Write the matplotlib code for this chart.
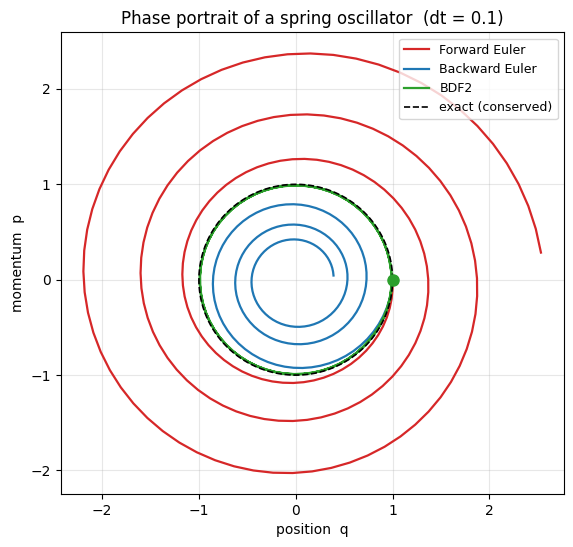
import numpy as np
import matplotlib
matplotlib.use("Agg")
from matplotlib import pyplot as plt

# spring oscillator  q' = p , p' = -q
dt = 0.1
n_steps = 188          # about three periods (6*pi / dt)
q0 = 1.0
p0 = 0.0

series_names = ["Forward Euler", "Backward Euler", "BDF2", "exact (conserved)"]
series_colors = ["tab:red", "tab:blue", "tab:green", "black"]

A = np.array([[0.0, 1.0], [-1.0, 0.0]])
I = np.eye(2)


def ForwardEuler(y0):
    ys = [np.array(y0)]
    for n in range(n_steps):
        ys.append((I + dt * A) @ ys[-1])
    return np.array(ys)


def BackwardEuler(y0):
    M = np.linalg.inv(I - dt * A)
    ys = [np.array(y0)]
    for n in range(n_steps):
        ys.append(M @ ys[-1])
    return np.array(ys)


def BDF2(y0):
    # first step with backward euler, then BDF2
    M1 = np.linalg.inv(I - dt * A)
    M2 = np.linalg.inv(3 * I - 2 * dt * A)
    ys = [np.array(y0), M1 @ np.array(y0)]
    for n in range(n_steps - 1):
        ys.append(M2 @ (4 * ys[-1] - ys[-2]))
    return np.array(ys)


if __name__ == "__main__":
    y0 = [q0, p0]
    fe = ForwardEuler(y0)
    be = BackwardEuler(y0)
    bdf = BDF2(y0)

    theta = np.linspace(0, 2 * np.pi, 400)
    r0 = np.hypot(q0, p0)

    fig, ax = plt.subplots(figsize=(5.73, 5.47), dpi=100)
    ax.plot(fe[:, 0], fe[:, 1], color=series_colors[0], lw=1.6, label=series_names[0])
    ax.plot(be[:, 0], be[:, 1], color=series_colors[1], lw=1.6, label=series_names[1])
    ax.plot(bdf[:, 0], bdf[:, 1], color=series_colors[2], lw=1.6, label=series_names[2])
    ax.plot(r0 * np.cos(theta), r0 * np.sin(theta), "--", color=series_colors[3], lw=1.2,
            label=series_names[3])
    ax.plot([q0], [p0], "o", color="tab:green", markersize=8, zorder=5)

    ax.set_title("Phase portrait of a spring oscillator  (dt = 0.1)")
    ax.set_xlabel("position  q")
    ax.set_ylabel("momentum  p")
    ax.grid(True, alpha=0.3)
    ax.legend(loc="upper right", fontsize=9)

    fig.subplots_adjust(left=0.1056, right=0.984, top=0.9406, bottom=0.0969)
    fig.savefig("out.png", dpi=100)
